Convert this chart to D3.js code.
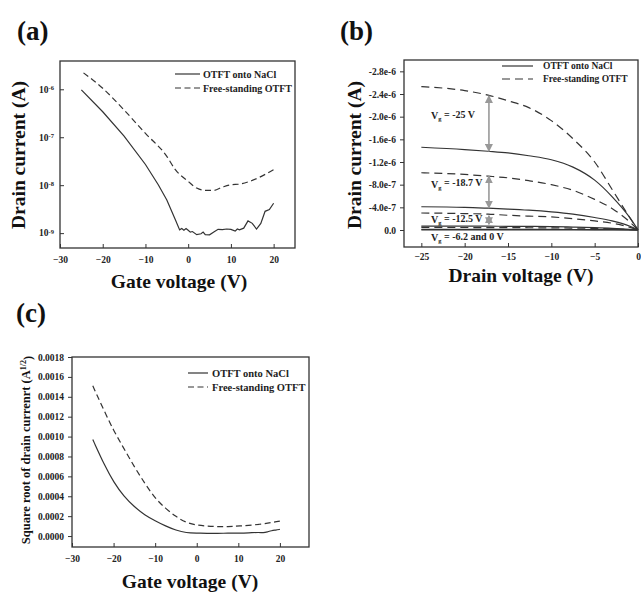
<!DOCTYPE html>
<html><head><meta charset="utf-8">
<script src="https://cdn.jsdelivr.net/npm/d3@7"></script>
<style>
body{margin:0;background:#fff;}
svg{display:block;font-family:"Liberation Serif","Times New Roman",serif;font-weight:bold;}
</style></head>
<body><svg id="c" width="641" height="592"></svg>
<script>
// ---------- Panel (a): log drain current vs gate voltage ----------
const aSolidX = [-25,-20,-15,-10,-7,-5,-3,-2,-1.5,-1,-0.5,0,0.5,1,2,3,3.5,4,5,6,7,8,9,10,11,11.5,12,13,14,15,16,17,18,19,20];
const aSolidY = [9.7e-7,3.4e-7,1.05e-7,2.7e-8,1.02e-8,4.9e-9,1.9e-9,1.17e-9,1.25e-9,1.15e-9,1.25e-9,1.15e-9,1.05e-9,1.08e-9,0.93e-9,0.97e-9,1.05e-9,0.93e-9,0.92e-9,1.05e-9,1.2e-9,1.18e-9,1.22e-9,1.2e-9,1.1e-9,1.22e-9,1.17e-9,1.27e-9,1.8e-9,1.6e-9,1.22e-9,1.6e-9,2.85e-9,3.1e-9,4.2e-9];
const aDashX = [-24.5,-20,-15,-10,-5,-3,0,2,4,6,8,10,12,15,20];
const aDashY = [2.2e-6,1.05e-6,3.7e-7,1.2e-7,4.0e-8,2.1e-8,1.2e-8,8.7e-9,7.8e-9,7.8e-9,9.1e-9,1.02e-8,1.05e-8,1.26e-8,2.1e-8];
const aXTicks = [-30,-20,-10,0,10,20];
const aYTicks = [1e-6,1e-7,1e-8,1e-9];
const aYExp = ["-6","-7","-8","-9"];

// ---------- Panel (b): drain current vs drain voltage ----------
const bVd = [-25,-20,-17.3,-15,-12.6,-10,-7.5,-5,-3,-1,0];
const bFree25  = [-2.53e-6,-2.46e-6,-2.38e-6,-2.28e-6,-2.16e-6,-1.93e-6,-1.61e-6,-1.2e-6,-0.72e-6,-0.23e-6,0];
const bNaCl25  = [-1.46e-6,-1.42e-6,-1.39e-6,-1.36e-6,-1.31e-6,-1.24e-6,-1.11e-6,-0.88e-6,-0.59e-6,-0.23e-6,0];
const bFree187 = [-1.01e-6,-0.98e-6,-0.95e-6,-0.92e-6,-0.87e-6,-0.80e-6,-0.70e-6,-0.54e-6,-0.38e-6,-0.15e-6,0];
const bNaCl187 = [-0.41e-6,-0.40e-6,-0.385e-6,-0.37e-6,-0.35e-6,-0.32e-6,-0.28e-6,-0.22e-6,-0.16e-6,-0.07e-6,0];
const bFree125 = [-0.30e-6,-0.29e-6,-0.28e-6,-0.26e-6,-0.245e-6,-0.23e-6,-0.2e-6,-0.16e-6,-0.12e-6,-0.05e-6,0];
const bNaCl125 = [-0.07e-6,-0.068e-6,-0.067e-6,-0.065e-6,-0.063e-6,-0.06e-6,-0.052e-6,-0.042e-6,-0.03e-6,-0.012e-6,0];
const bFree62  = [-0.045e-6,-0.044e-6,-0.043e-6,-0.042e-6,-0.04e-6,-0.038e-6,-0.034e-6,-0.028e-6,-0.02e-6,-0.008e-6,0];
const bNaCl62  = [-0.012e-6,-0.012e-6,-0.012e-6,-0.011e-6,-0.011e-6,-0.01e-6,-0.009e-6,-0.007e-6,-0.005e-6,-0.002e-6,0];
const bZero    = [0,0,0,0,0,0,0,0,0,0,0];
const bXTicks = [-25,-20,-15,-10,-5,0];
const bYTicks = [-2.8e-6,-2.4e-6,-2.0e-6,-1.6e-6,-1.2e-6,-8.0e-7,-4.0e-7,0];
const bYLabels = ["-2.8e-6","-2.4e-6","-2.0e-6","-1.6e-6","-1.2e-6","-8.0e-7","-4.0e-7","0.0"];
const bArrowVd = [-17.2,-17.2,-17.2];
const bArrowFrom = [-2.37e-6,-0.95e-6,-0.25e-6];
const bArrowTo = [-1.39e-6,-0.39e-6,-0.1e-6];
const bLabelVg = ["-25","-18.7","-12.5","-6.2 and 0"];
const bLabelAt = [-2.02e-6,-0.81e-6,-0.19e-6,0.13e-6];

// ---------- Panel (c): sqrt drain current vs gate voltage ----------
const cSolidX = [-25,-22,-20,-17.5,-15,-12.5,-10,-7.5,-5,-2.5,0,2.5,5,7.5,10,12.5,15,16,17,18,19,20];
const cSolidY = [0.00097,0.000695,0.000545,0.000395,0.000294,0.00021,0.000154,0.0001,0.000058,0.000032,0.00003,0.000027,0.000026,0.00003,0.00003,0.000032,0.000038,0.000032,0.000042,0.000055,0.00006,0.000067];
const cDashX = [-25,-22.5,-20,-17.5,-15,-12.5,-10,-7.5,-5,-2.5,0,2.5,5,7.5,10,15,20];
const cDashY = [0.00151,0.00128,0.00106,0.00088,0.000695,0.00053,0.000378,0.000278,0.000194,0.000134,0.00011,0.0001,0.000094,0.000095,0.0001,0.000115,0.00015];
const cXTicks = [-30,-20,-10,0,10,20];
const cYTicks = [0,0.0002,0.0004,0.0006,0.0008,0.0010,0.0012,0.0014,0.0016,0.0018];

const legendNames = ["OTFT onto NaCl","Free-standing OTFT"];

const svg = d3.select("#c");
const ink = "#333";

function frame(x0,y0,x1,y1){
  svg.append("rect").attr("x",x0).attr("y",y0).attr("width",x1-x0).attr("height",y1-y0)
    .attr("fill","none").attr("stroke",ink).attr("stroke-width",1.3);
}
function line(x,y,xs,ys,dash,curve){
  const pts = xs.map((v,i)=>[v,ys[i]]);
  svg.append("path").attr("d",d3.line().x(d=>x(d[0])).y(d=>y(d[1])).curve(curve||d3.curveMonotoneX)(pts))
    .attr("fill","none").attr("stroke",ink).attr("stroke-width",1.2)
    .attr("stroke-dasharray",dash||null);
}
function legend(x0,x1,tx,y1,y2,fs,dash){
  svg.append("line").attr("x1",x0).attr("x2",x1).attr("y1",y1).attr("y2",y1).attr("stroke",ink).attr("stroke-width",1.2);
  svg.append("line").attr("x1",x0).attr("x2",x1).attr("y1",y2).attr("y2",y2).attr("stroke",ink).attr("stroke-width",1.2).attr("stroke-dasharray",dash);
  [y1,y2].forEach((yy,i)=>svg.append("text").attr("x",tx).attr("y",yy).attr("dy","0.35em")
    .attr("font-size",fs).attr("fill","#222").text(legendNames[i]));
}
function title(t,x,y){svg.append("text").attr("x",x).attr("y",y).attr("font-size",27).attr("fill","#111").text(t);}
function xAxisTicks(x,ticks,yb,pad){
  const g = svg.append("g").attr("transform",`translate(0,${yb})`)
    .call(d3.axisBottom(x).tickValues(ticks).tickSizeInner(-4).tickSizeOuter(0).tickPadding(pad).tickFormat(d3.format("d")));
  g.select(".domain").remove();
  g.selectAll("line").attr("stroke",ink);
  g.selectAll("text").attr("font-family","Liberation Serif").attr("font-weight","bold").attr("font-size",9.5).attr("fill","#222");
  return g;
}

// ===== (a)
{
  const x = d3.scaleLinear().domain([-30,25]).range([60,295]);
  const y = d3.scaleLog().domain([Math.pow(10,-9.31),Math.pow(10,-5.41)]).range([248,61]);
  frame(60,61,295,248);
  xAxisTicks(x,aXTicks,248,8);
  const gy = svg.append("g").attr("transform","translate(60,0)")
    .call(d3.axisLeft(y).tickValues(aYTicks).tickSizeInner(-4).tickSizeOuter(0).tickFormat(""));
  gy.select(".domain").remove(); gy.selectAll("line").attr("stroke",ink);
  aYTicks.forEach((t,i)=>{
    const tx = svg.append("text").attr("x",54).attr("y",y(t)).attr("dy","0.35em").attr("text-anchor","end")
      .attr("font-size",9.5).attr("fill","#222");
    tx.append("tspan").text("10");
    tx.append("tspan").attr("dy","-0.45em").attr("font-size",6.5).text(aYExp[i]);
  });
  line(x,y,aSolidX,aSolidY,null,d3.curveLinear);
  line(x,y,aDashX,aDashY,"6,3.5");
  legend(175,200,203,74,88,10,"6,3.5");
  title("(a)",17,40);
  svg.append("text").attr("transform","translate(25,155) rotate(-90)").attr("text-anchor","middle")
    .attr("font-size",19.5).attr("fill","#111").text("Drain current (A)");
  svg.append("text").attr("x",179).attr("y",288).attr("text-anchor","middle")
    .attr("font-size",19.5).attr("fill","#111").text("Gate voltage (V)");
}

// ===== (b)
{
  const x = d3.scaleLinear().domain([-27,0]).range([404,638]);
  const y = d3.scaleLinear().domain([0.3e-6,-3.0e-6]).range([247,60]);
  frame(404,60,638,247);
  xAxisTicks(x,bXTicks,247,6);
  const gy = svg.append("g").attr("transform","translate(404,0)")
    .call(d3.axisLeft(y).tickValues(bYTicks).tickSizeInner(4).tickSizeOuter(0).tickPadding(4)
      .tickFormat((d,i)=>bYLabels[i]));
  gy.select(".domain").remove(); gy.selectAll("line").attr("stroke",ink);
  gy.selectAll("text").attr("font-family","Liberation Serif").attr("font-weight","bold").attr("font-size",9.5).attr("fill","#222");
  const D = "8,5";
  [[bFree25,D],[bNaCl25,null],[bFree187,D],[bNaCl187,null],[bFree125,D],[bNaCl125,null],[bFree62,D],[bNaCl62,null],[bZero,null]]
    .forEach(([ys,d])=>line(x,y,bVd,ys,d));
  const defs = svg.append("defs");
  defs.append("marker").attr("id","ah").attr("viewBox","0 0 10 10").attr("refX",9).attr("refY",5)
    .attr("markerWidth",5).attr("markerHeight",5).attr("orient","auto-start-reverse")
    .append("path").attr("d","M0,0L10,5L0,10z").attr("fill","#999");
  bArrowVd.forEach((v,i)=>{
    svg.append("line").attr("x1",x(v)).attr("x2",x(v)).attr("y1",y(bArrowFrom[i])).attr("y2",y(bArrowTo[i]))
      .attr("stroke","#999").attr("stroke-width",1.6)
      .attr("marker-start","url(#ah)").attr("marker-end","url(#ah)");
  });
  bLabelVg.forEach((s,i)=>{
    const t = svg.append("text").attr("x",431).attr("y",y(bLabelAt[i])).attr("dy","0.35em")
      .attr("font-size",10).attr("fill","#222");
    t.append("tspan").text("V");
    t.append("tspan").attr("dy","0.35em").attr("font-size",6.5).text("g");
    t.append("tspan").attr("dy","-0.35em").text(" = " + s + " V");
  });
  legend(502,533,543,66,79,9.5,"8,5");
  title("(b)",340,40);
  svg.append("text").attr("transform","translate(361,155) rotate(-90)").attr("text-anchor","middle")
    .attr("font-size",19.5).attr("fill","#111").text("Drain current (A)");
  svg.append("text").attr("x",521).attr("y",282).attr("text-anchor","middle")
    .attr("font-size",19.5).attr("fill","#111").text("Drain voltage (V)");
}

// ===== (c)
{
  const x = d3.scaleLinear().domain([-30,27]).range([72,309]);
  const y = d3.scaleLinear().domain([-0.00011,0.0018]).range([547,357]);
  frame(72,357,309,547);
  xAxisTicks(x,cXTicks,547,8);
  const gy = svg.append("g").attr("transform","translate(72,0)")
    .call(d3.axisLeft(y).tickValues(cYTicks).tickSizeInner(4).tickSizeOuter(0).tickPadding(4).tickFormat(d3.format(".4f")));
  gy.select(".domain").remove(); gy.selectAll("line").attr("stroke",ink);
  gy.selectAll("text").attr("font-family","Liberation Serif").attr("font-weight","bold").attr("font-size",9.5).attr("fill","#222");
  line(x,y,cSolidX,cSolidY,null,d3.curveBasis);
  line(x,y,cDashX,cDashY,"6,3.5",d3.curveBasis);
  legend(188,208,212,373,387,10.5,"6,3.5");
  title("(c)",16,322);
  const t = svg.append("text").attr("transform","translate(30,450) rotate(-90)").attr("text-anchor","middle")
    .attr("font-size",12.5).attr("fill","#111");
  t.append("tspan").text("Square root of drain currenrt (A");
  t.append("tspan").attr("dy","-0.45em").attr("font-size",8).text("1/2");
  t.append("tspan").attr("dy","0.45em").text(")");
  svg.append("text").attr("x",190).attr("y",588).attr("text-anchor","middle")
    .attr("font-size",19.5).attr("fill","#111").text("Gate voltage (V)");
}
</script></body></html>
